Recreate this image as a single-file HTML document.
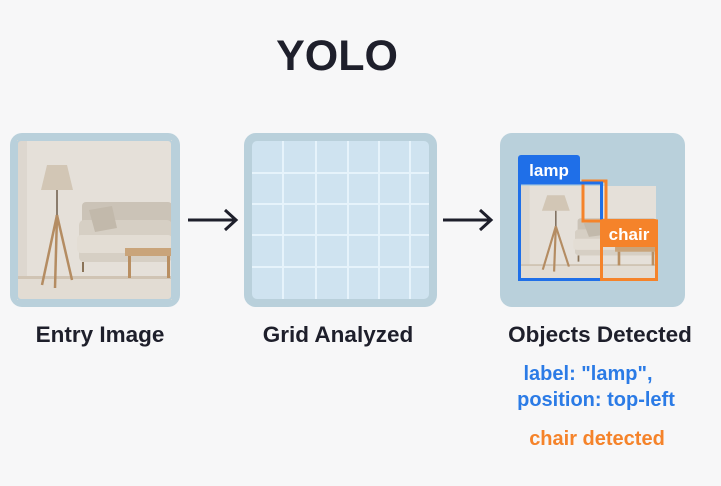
<!DOCTYPE html>
<html><head><style>
html,body{margin:0;padding:0;background:#f7f7f8;}
body{width:721px;height:481px;overflow:hidden;font-family:"Liberation Sans",sans-serif;}
</style></head><body>
<svg width="721" height="481" viewBox="0 0 721 481" xmlns="http://www.w3.org/2000/svg" font-family="Liberation Sans, sans-serif">
<defs>
<g id="room">
  <rect x="0" y="0" width="155" height="160" fill="#e5e0d9"/>
  <rect x="0" y="0" width="10" height="160" fill="#ddd7cf"/>
  <rect x="0" y="138" width="155" height="22" fill="#e2dcd3"/>
  <rect x="0" y="136" width="155" height="3" fill="#d0c4b4"/>
  <polygon points="30,25 50,25 56,50 24,50" fill="#d2c6b5"/>
  <line x1="40" y1="50" x2="40" y2="75" stroke="#6b5a48" stroke-width="1.5"/>
  <line x1="40" y1="75" x2="25" y2="145" stroke="#b48c62" stroke-width="2.5"/>
  <line x1="40" y1="75" x2="55" y2="140" stroke="#b48c62" stroke-width="2.5"/>
  <line x1="40" y1="75" x2="38" y2="148" stroke="#b48c62" stroke-width="2.5"/>
  <rect x="65" y="62" width="90" height="36" rx="4" fill="#cbc3b7"/>
  <rect x="62" y="80" width="93" height="42" rx="5" fill="#d6cfc4"/>
  <rect x="60" y="95" width="95" height="18" rx="4" fill="#e3ddd4"/>
  <polygon points="72,70 95,66 100,88 78,92" fill="#c2b9ab"/>
  <rect x="108" y="108" width="47" height="8" fill="#c9a47a"/>
  <rect x="111" y="116" width="3" height="22" fill="#b98f62"/>
  <rect x="150" y="116" width="3" height="22" fill="#b98f62"/>
  <rect x="65" y="122" width="2" height="10" fill="#8a7358"/>
</g>
</defs>
<text x="337" y="70" text-anchor="middle" font-size="43" font-weight="bold" fill="#1e1f2b">YOLO</text>

<rect x="10" y="133" width="170" height="174" rx="12" fill="#b9d0db"/>
<svg x="17" y="140" width="155" height="160" viewBox="0 0 155 160"><use href="#room"/></svg>
<rect x="17" y="140" width="155" height="160" rx="4" fill="none" stroke="#b9d0db" stroke-width="2"/>

<line x1="188" y1="220" x2="235" y2="220" stroke="#1e1f2b" stroke-width="3"/>
<polyline points="225,210 236,220 225,230" fill="none" stroke="#1e1f2b" stroke-width="3"/>

<rect x="244" y="133" width="193" height="174" rx="12" fill="#b9d0db"/>
<rect x="252" y="141" width="177" height="158" rx="5" fill="#cfe3f0"/>
<g stroke="#e6f3fb" stroke-width="2">
<line x1="283" y1="141" x2="283" y2="299"/><line x1="316" y1="141" x2="316" y2="299"/>
<line x1="348" y1="141" x2="348" y2="299"/><line x1="379" y1="141" x2="379" y2="299"/>
<line x1="410" y1="141" x2="410" y2="299"/>
<line x1="252" y1="173" x2="429" y2="173"/><line x1="252" y1="204" x2="429" y2="204"/>
<line x1="252" y1="235" x2="429" y2="235"/><line x1="252" y1="267" x2="429" y2="267"/>
</g>

<line x1="443" y1="220" x2="490" y2="220" stroke="#1e1f2b" stroke-width="3"/>
<polyline points="480,210 491,220 480,230" fill="none" stroke="#1e1f2b" stroke-width="3"/>

<rect x="500" y="133" width="185" height="174" rx="12" fill="#b9d0db"/>
<svg x="521" y="186" width="135" height="93" viewBox="0 10 155 150" preserveAspectRatio="none"><use href="#room"/></svg>
<rect x="583" y="181" width="23" height="40" fill="none" stroke="#f5832a" stroke-width="3"/>
<rect x="519.5" y="183" width="82" height="96.5" fill="none" stroke="#1f6fe8" stroke-width="3"/>
<rect x="518" y="155" width="62" height="29" rx="3" fill="#1f6fe8"/>
<text x="549" y="176" text-anchor="middle" font-size="17" font-weight="bold" fill="#fff">lamp</text>
<rect x="601.5" y="221" width="55" height="58.5" fill="none" stroke="#f5832a" stroke-width="3"/>
<rect x="600" y="219" width="58" height="28" rx="3" fill="#f5832a"/>
<text x="629" y="240" text-anchor="middle" font-size="17" font-weight="bold" fill="#fff">chair</text>

<text x="100" y="342" text-anchor="middle" font-size="22.5" font-weight="bold" fill="#1e1f2b">Entry Image</text>
<text x="338" y="342" text-anchor="middle" font-size="22.5" font-weight="bold" fill="#1e1f2b">Grid Analyzed</text>
<text x="600" y="342" text-anchor="middle" font-size="22.5" font-weight="bold" fill="#1e1f2b">Objects Detected</text>
<text x="588" y="380" text-anchor="middle" font-size="20" font-weight="bold" fill="#2b7be6">label: "lamp",</text>
<text x="596" y="406" text-anchor="middle" font-size="20" font-weight="bold" fill="#2b7be6">position: top-left</text>
<text x="597" y="445" text-anchor="middle" font-size="20" font-weight="bold" fill="#f5832a">chair detected</text>
</svg>
</body></html>
